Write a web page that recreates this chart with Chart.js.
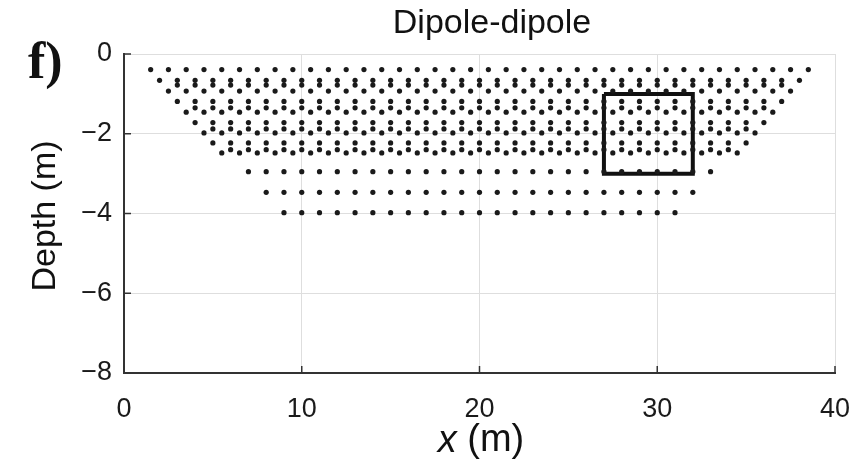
<!DOCTYPE html>
<html>
<head>
<meta charset="utf-8">
<script src="https://cdn.jsdelivr.net/npm/chart.js@4.4.1/dist/chart.umd.min.js"></script>
<style>
  html, body { margin: 0; padding: 0; background: #ffffff; }
  #wrap { width: 857px; height: 466px; position: relative; }
</style>
</head>
<body>
<div id="wrap"><canvas id="c"></canvas></div>
<script>
// ---- Data ----
// Pseudo-section points: a = 1 m spacing, n = 1..9
const x_a1n1 = [1.5,2.5,3.5,4.5,5.5,6.5,7.5,8.5,9.5,10.5,11.5,12.5,13.5,14.5,15.5,16.5,17.5,18.5,19.5,20.5,21.5,22.5,23.5,24.5,25.5,26.5,27.5,28.5,29.5,30.5,31.5,32.5,33.5,34.5,35.5,36.5,37.5,38.5];
const x_a1n2 = [2,3,4,5,6,7,8,9,10,11,12,13,14,15,16,17,18,19,20,21,22,23,24,25,26,27,28,29,30,31,32,33,34,35,36,37,38];
const x_a1n3 = [2.5,3.5,4.5,5.5,6.5,7.5,8.5,9.5,10.5,11.5,12.5,13.5,14.5,15.5,16.5,17.5,18.5,19.5,20.5,21.5,22.5,23.5,24.5,25.5,26.5,27.5,28.5,29.5,30.5,31.5,32.5,33.5,34.5,35.5,36.5,37.5];
const x_a1n4 = [3,4,5,6,7,8,9,10,11,12,13,14,15,16,17,18,19,20,21,22,23,24,25,26,27,28,29,30,31,32,33,34,35,36,37];
const x_a1n5 = [3.5,4.5,5.5,6.5,7.5,8.5,9.5,10.5,11.5,12.5,13.5,14.5,15.5,16.5,17.5,18.5,19.5,20.5,21.5,22.5,23.5,24.5,25.5,26.5,27.5,28.5,29.5,30.5,31.5,32.5,33.5,34.5,35.5,36.5];
const x_a1n6 = [4,5,6,7,8,9,10,11,12,13,14,15,16,17,18,19,20,21,22,23,24,25,26,27,28,29,30,31,32,33,34,35,36];
const x_a1n7 = [4.5,5.5,6.5,7.5,8.5,9.5,10.5,11.5,12.5,13.5,14.5,15.5,16.5,17.5,18.5,19.5,20.5,21.5,22.5,23.5,24.5,25.5,26.5,27.5,28.5,29.5,30.5,31.5,32.5,33.5,34.5,35.5];
const x_a1n8 = [5,6,7,8,9,10,11,12,13,14,15,16,17,18,19,20,21,22,23,24,25,26,27,28,29,30,31,32,33,34,35];
const x_a1n9 = [5.5,6.5,7.5,8.5,9.5,10.5,11.5,12.5,13.5,14.5,15.5,16.5,17.5,18.5,19.5,20.5,21.5,22.5,23.5,24.5,25.5,26.5,27.5,28.5,29.5,30.5,31.5,32.5,33.5,34.5];
// a = 2 m spacing, n = 1..7
const x_a2n1 = [3,4,5,6,7,8,9,10,11,12,13,14,15,16,17,18,19,20,21,22,23,24,25,26,27,28,29,30,31,32,33,34,35,36,37];
const x_a2n2 = [4,5,6,7,8,9,10,11,12,13,14,15,16,17,18,19,20,21,22,23,24,25,26,27,28,29,30,31,32,33,34,35,36];
const x_a2n3 = [5,6,7,8,9,10,11,12,13,14,15,16,17,18,19,20,21,22,23,24,25,26,27,28,29,30,31,32,33,34,35];
const x_a2n4 = [6,7,8,9,10,11,12,13,14,15,16,17,18,19,20,21,22,23,24,25,26,27,28,29,30,31,32,33,34];
const x_a2n5 = [7,8,9,10,11,12,13,14,15,16,17,18,19,20,21,22,23,24,25,26,27,28,29,30,31,32,33];
const x_a2n6 = [8,9,10,11,12,13,14,15,16,17,18,19,20,21,22,23,24,25,26,27,28,29,30,31,32];
const x_a2n7 = [9,10,11,12,13,14,15,16,17,18,19,20,21,22,23,24,25,26,27,28,29,30,31];

const depthA1 = [-0.39, -0.66, -0.93, -1.19, -1.46, -1.72, -1.98, -2.23, -2.48];
const depthA2 = [-0.78, -1.35, -1.88, -2.40, -2.95, -3.47, -3.98];

const rowsA1 = [x_a1n1, x_a1n2, x_a1n3, x_a1n4, x_a1n5, x_a1n6, x_a1n7, x_a1n8, x_a1n9];
const rowsA2 = [x_a2n1, x_a2n2, x_a2n3, x_a2n4, x_a2n5, x_a2n6, x_a2n7];

// Highlight rectangle
const boxX = [27, 32, 32, 27, 27];
const boxY = [-1, -1, -3, -3, -1];

// Axes
const xTicks = [0, 10, 20, 30, 40];
const yTicks = [0, -2, -4, -6, -8];

const titleText = 'Dipole-dipole';
const panelLabel = 'f)';
const yTitle = 'Depth (m)';
const xTitleVar = 'x';
const xTitleUnit = ' (m)';

// ---- Build datasets ----
const DOT = '#1a1a1a';
const datasets = [];
function addRow(xs, d) {
  datasets.push({
    type: 'scatter',
    data: xs.map(x => ({ x: x, y: d })),
    pointRadius: 2.6,
    pointBorderWidth: 0,
    pointBackgroundColor: DOT,
    showLine: false
  });
}
rowsA1.forEach((xs, i) => addRow(xs, depthA1[i]));
rowsA2.forEach((xs, i) => addRow(xs, depthA2[i]));
datasets.push({
  type: 'line',
  data: boxX.map((x, i) => ({ x: x, y: boxY[i] })),
  borderColor: '#111111',
  borderWidth: 4,
  pointRadius: 0,
  fill: false,
  tension: 0,
  borderJoinStyle: 'miter'
});

const SANS = '"Liberation Sans", Arial, Helvetica, sans-serif';

const textPlugin = {
  id: 'textPlugin',
  afterDraw(chart) {
    const ctx = chart.ctx;
    const a = chart.chartArea;
    const xs = chart.scales.x, ys = chart.scales.y;
    ctx.save();
    // inward tick marks
    ctx.strokeStyle = '#333333';
    ctx.lineWidth = 1.5;
    xTicks.forEach(v => {
      const px = xs.getPixelForValue(v);
      ctx.beginPath(); ctx.moveTo(px, a.bottom); ctx.lineTo(px, a.bottom - 7); ctx.stroke();
    });
    yTicks.forEach(v => {
      const py = ys.getPixelForValue(v);
      ctx.beginPath(); ctx.moveTo(a.left, py); ctx.lineTo(a.left + 7, py); ctx.stroke();
    });
    ctx.fillStyle = '#111111';
    // title
    ctx.font = '34px ' + SANS;
    ctx.textAlign = 'center';
    ctx.textBaseline = 'middle';
    ctx.fillText(titleText, 492, 24);
    // panel label
    ctx.font = 'bold 52px "Liberation Serif", "Times New Roman", serif';
    ctx.textAlign = 'left';
    ctx.textBaseline = 'alphabetic';
    ctx.fillText(panelLabel, 28, 78);
    // y title
    ctx.save();
    ctx.translate(46, 216);
    ctx.rotate(-Math.PI / 2);
    ctx.font = '34px ' + SANS;
    ctx.textAlign = 'center';
    ctx.textBaseline = 'middle';
    ctx.fillText(yTitle, 0, 0);
    ctx.restore();
    // x title
    ctx.textBaseline = 'middle';
    ctx.textAlign = 'left';
    ctx.font = 'italic 38px ' + SANS;
    const w1 = ctx.measureText(xTitleVar).width;
    ctx.font = '38px ' + SANS;
    const w2 = ctx.measureText(xTitleUnit).width;
    const sx = 481 - (w1 + w2) / 2;
    ctx.font = 'italic 38px ' + SANS;
    ctx.fillText(xTitleVar, sx, 441);
    ctx.font = '38px ' + SANS;
    ctx.fillText(xTitleUnit, sx + w1, 441);
    ctx.restore();
  }
};

new Chart(document.getElementById('c'), {
  type: 'scatter',
  data: { datasets: datasets },
  options: {
    responsive: true,
    maintainAspectRatio: false,
    animation: false,
    layout: { padding: { top: 54, right: 22, left: 0, bottom: 0 } },
    plugins: { legend: { display: false }, tooltip: { enabled: false }, title: { display: false } },
    scales: {
      x: {
        type: 'linear',
        min: 0, max: 40,
        afterBuildTicks(s) { s.ticks = xTicks.map(v => ({ value: v })); },
        afterFit(s) { s.height = 93; s.paddingLeft = 0; s.paddingRight = 0; },
        ticks: { font: { size: 27, family: SANS }, color: '#1a1a1a', padding: 20, maxRotation: 0 },
        grid: { color: '#dedede', lineWidth: 1, drawTicks: false },
        border: { color: '#333333', width: 2 }
      },
      y: {
        type: 'linear',
        min: -8, max: 0,
        afterBuildTicks(s) { s.ticks = yTicks.map(v => ({ value: v })); },
        afterFit(s) { s.width = 124; s.paddingTop = 0; s.paddingBottom = 0; },
        ticks: {
          font: { size: 27, family: SANS }, color: '#1a1a1a', padding: 12,
          callback: v => String(v).replace('-', '\u2212')
        },
        grid: { color: '#dedede', lineWidth: 1, drawTicks: false },
        border: { color: '#333333', width: 2 }
      }
    }
  },
  plugins: [textPlugin]
});
</script>
</body>
</html>
